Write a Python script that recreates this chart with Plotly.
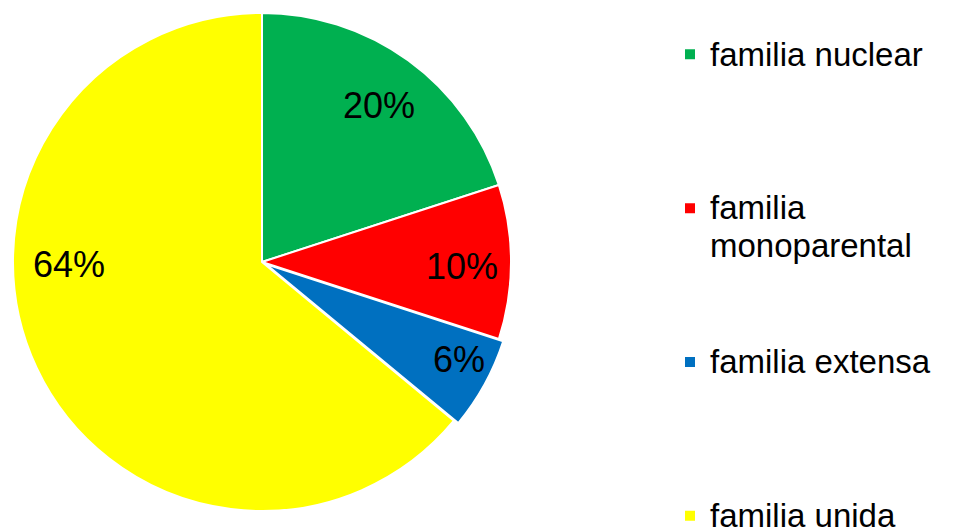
import plotly.graph_objects as go

categories = ["familia nuclear", "familia<br>monoparental", "familia extensa", "familia unida"]
values = [20, 10, 6, 64]
colors = ["#00B050", "#FF0000", "#0070C0", "#FFFF00"]
pulls = [0, 0, 0.02, 0]

# figure is drawn 8px in from the page corner (body margin), so size accordingly
W, H = 955, 521
cx, cy, half = 254, 254, 254

# legend: visible text at 33px; padding lines (at legend font size) space items out
pad_lines = [3, 2, 3, 0]
legend_labels = []
for c, n in zip(categories, pad_lines):
    parts = c.split("<br>")
    txt = "<br>".join('<span style="font-size:33px">%s</span>' % p for p in parts)
    legend_labels.append(txt + "<br> " * n)

# positions of the percentage labels (pixels in figure)
label_pos = [(371, 97), (454, 258.5), (450.5, 351), (61, 256.5)]

total = sum(values)
fig = go.Figure(go.Pie(
    labels=legend_labels,
    values=values,
    sort=False,
    direction="clockwise",
    rotation=0,
    pull=pulls,
    marker=dict(colors=colors, line=dict(color="white", width=2)),
    textinfo="none",
    domain=dict(x=[(cx - half) / W, (cx + half) / W],
                y=[(H - cy - half) / H, min(1, (H - cy + half) / H)]),
    hoverinfo="percent",
))

for v, (px, py) in zip(values, label_pos):
    fig.add_annotation(
        x=px / W, y=1 - py / H, xref="paper", yref="paper",
        text="%d%%" % round(100 * v / total),
        showarrow=False, xanchor="center", yanchor="middle",
        font=dict(family="Liberation Sans, Arial, sans-serif", size=36, color="black"),
    )

fig.update_layout(
    width=W, height=H,
    margin=dict(l=0, r=0, t=0, b=0, autoexpand=False),
    paper_bgcolor="white",
    plot_bgcolor="white",
    font=dict(family="Liberation Sans, Arial, sans-serif", color="black"),
    legend=dict(
        x=662 / W, y=1 - 21 / H, xanchor="left", yanchor="top",
        valign="top",
        font=dict(size=29, color="black"),
        bgcolor="rgba(0,0,0,0)",
        maxheight=900,
    ),
)

fig.write_html("out.html")
